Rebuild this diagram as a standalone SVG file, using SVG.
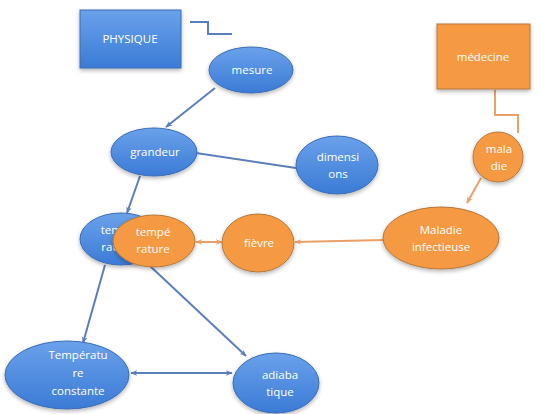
<svg xmlns="http://www.w3.org/2000/svg" width="541" height="414" viewBox="0 0 541 414">
<defs>
<linearGradient id="gb" x1="0" y1="0" x2="0" y2="1">
<stop offset="0" stop-color="#6aa1ea"/>
<stop offset="1" stop-color="#3b7bd6"/>
</linearGradient>
<filter id="sh" x="-20%" y="-20%" width="140%" height="150%">
<feGaussianBlur in="SourceAlpha" stdDeviation="2"/>
<feOffset dx="0" dy="2" result="b"/>
<feComponentTransfer><feFuncA type="linear" slope="0.3"/></feComponentTransfer>
<feMerge><feMergeNode/><feMergeNode in="SourceGraphic"/></feMerge>
</filter>
<marker id="ab" viewBox="0 0 10 10" refX="9" refY="5" markerWidth="7" markerHeight="7" orient="auto-start-reverse" markerUnits="userSpaceOnUse">
<path d="M0,1 L10,5 L0,9 L3,5 Z" fill="#5b7fbd"/>
</marker>
<marker id="ao" viewBox="0 0 10 10" refX="9" refY="5" markerWidth="7" markerHeight="7" orient="auto-start-reverse" markerUnits="userSpaceOnUse">
<path d="M0,1 L10,5 L0,9 L3,5 Z" fill="#eaa066"/>
</marker>
</defs>
<style>
.b{fill:url(#gb);stroke:#3b6cb5;stroke-width:1;filter:url(#sh)}
.o{fill:#f59a43;stroke:#b5773d;stroke-width:1;filter:url(#sh)}
.t{fill:#ffffff;font-family:"Open Sans","Liberation Sans",sans-serif;font-size:11.5px;text-anchor:middle}
.cb{fill:none;stroke:#5b7fbd;stroke-width:2}
.co{fill:none;stroke:#eaa066;stroke-width:2}
</style>
<rect width="541" height="414" fill="#ffffff"/>
<g id="connectors">
<polyline class="cb" points="190,22 208,22 208,34 232,34"/>
<line class="cb" x1="215" y1="88" x2="166" y2="127" marker-end="url(#ab)"/>
<line class="cb" x1="196" y1="153" x2="296" y2="168"/>
<line class="cb" x1="140" y1="176" x2="127" y2="213" marker-end="url(#ab)"/>
<line class="cb" x1="105" y1="265" x2="83" y2="343" marker-end="url(#ab)"/>
<line class="cb" x1="150" y1="266" x2="246" y2="356" marker-end="url(#ab)"/>
<line class="cb" x1="131" y1="373" x2="232" y2="373" marker-start="url(#ab)" marker-end="url(#ab)"/>
<polyline class="co" points="495,90 495,115 518,115 518,133"/>
<line class="co" x1="481" y1="178" x2="467" y2="203" marker-end="url(#ao)"/>
<line class="co" x1="384" y1="240" x2="295" y2="242" marker-end="url(#ao)"/>
<line class="co" x1="196" y1="242" x2="222" y2="242" marker-start="url(#ao)" marker-end="url(#ao)"/>
</g>
<g id="physique"><rect class="b" x="80" y="10" width="101" height="58"/><text class="t" x="130" y="43">PHYSIQUE</text></g>
<g id="mesure"><ellipse class="b" cx="251" cy="70" rx="42" ry="23"/><text class="t" x="252" y="74">mesure</text></g>
<g id="grandeur"><ellipse class="b" cx="154" cy="152" rx="43" ry="24"/><text class="t" x="155" y="156">grandeur</text></g>
<g id="dimensions"><ellipse class="b" cx="337" cy="165" rx="41" ry="29"/><text class="t" x="338" y="161">dimensi</text><text class="t" x="338" y="178">ons</text></g>
<g id="temperature-b"><ellipse class="b" cx="121" cy="239" rx="41" ry="26"/><text class="t" x="118" y="234">tempé</text><text class="t" x="118" y="251">rature</text></g>
<g id="temperature-o"><ellipse class="o" cx="154" cy="241" rx="41" ry="26"/><text class="t" x="153" y="236">tempé</text><text class="t" x="153" y="253">rature</text></g>
<g id="fievre"><ellipse class="o" cx="258" cy="243" rx="36" ry="29"/><text class="t" x="259" y="247">fièvre</text></g>
<g id="maladie-inf"><ellipse class="o" cx="441" cy="238" rx="58" ry="31"/><text class="t" x="441" y="234">Maladie</text><text class="t" x="441" y="251">infectieuse</text></g>
<g id="maladie"><circle class="o" cx="498" cy="157" r="25"/><text class="t" x="499" y="153">mala</text><text class="t" x="499" y="170">die</text></g>
<g id="medecine"><rect class="o" x="437" y="24" width="93" height="65"/><text class="t" x="483" y="61">médecine</text></g>
<g id="temp-constante"><ellipse class="b" cx="67" cy="375" rx="62" ry="34"/><text class="t" x="78" y="359">Températu</text><text class="t" x="78" y="377">re</text><text class="t" x="78" y="395">constante</text></g>
<g id="adiabatique"><ellipse class="b" cx="276" cy="383" rx="43" ry="30"/><text class="t" x="280" y="379">adiaba</text><text class="t" x="280" y="396">tique</text></g>
</svg>
